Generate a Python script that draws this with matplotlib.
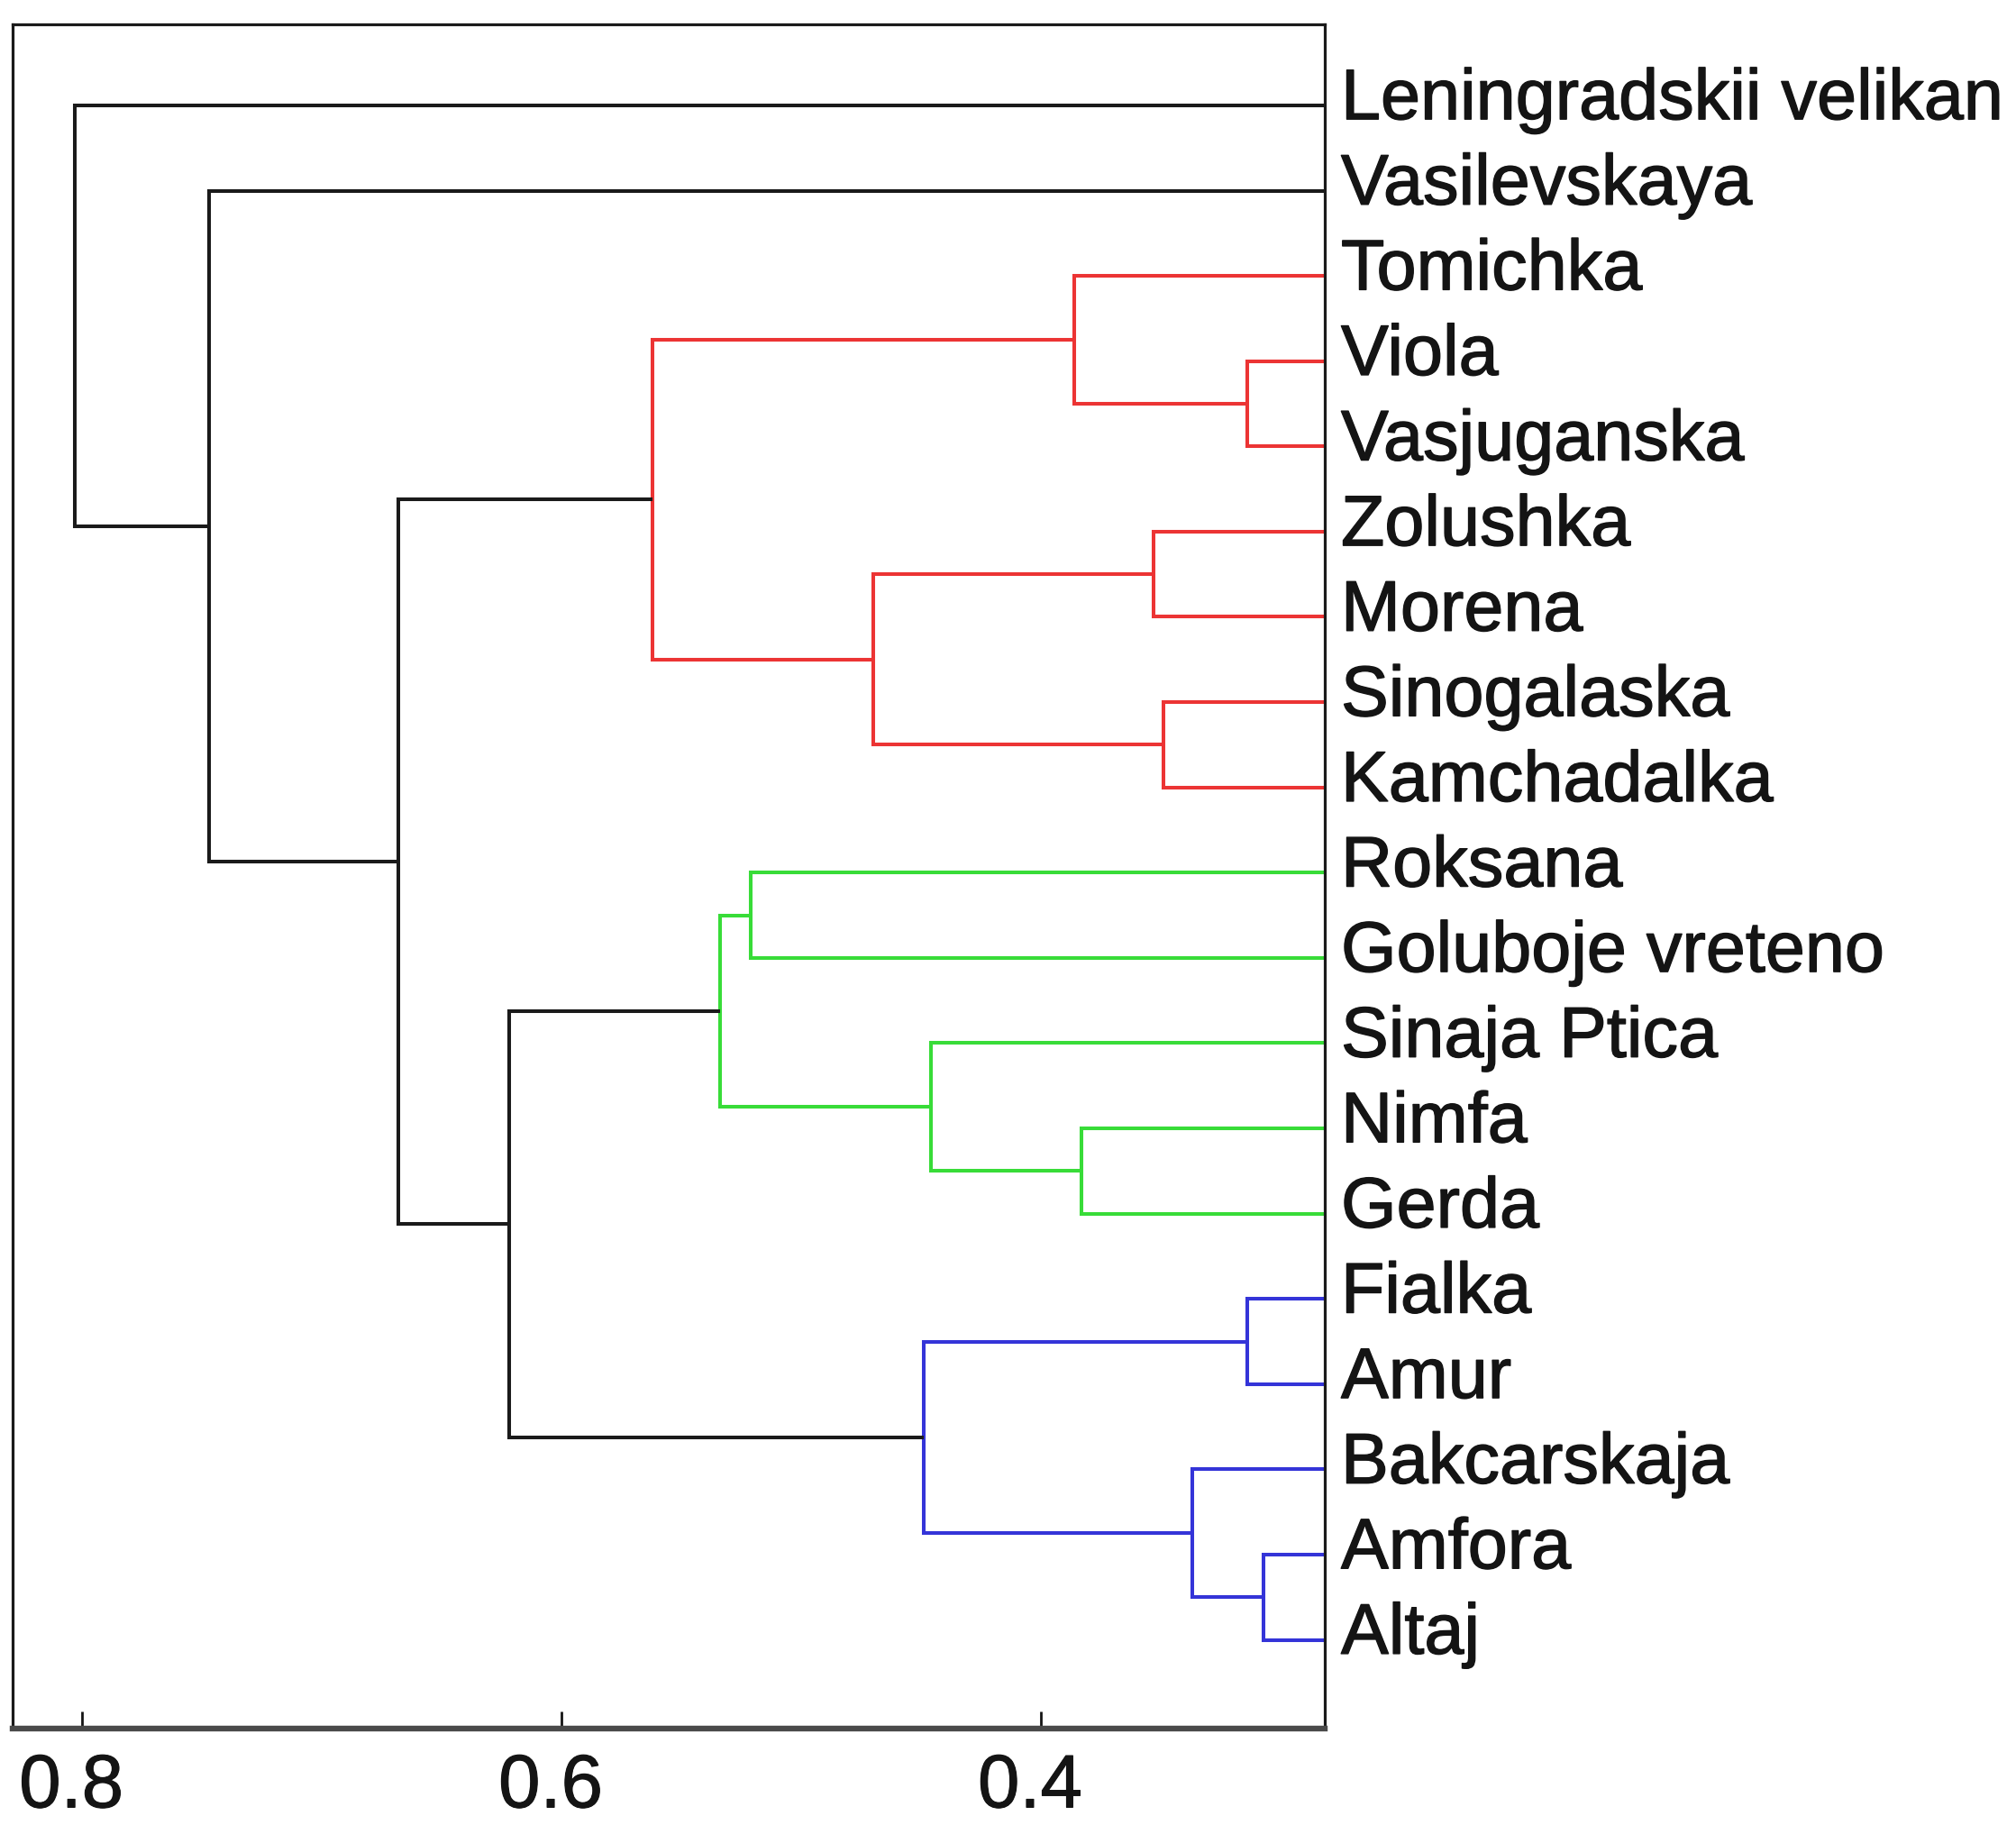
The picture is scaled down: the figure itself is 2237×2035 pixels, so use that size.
import matplotlib
matplotlib.use("Agg")
import matplotlib.pyplot as plt
import matplotlib.patheffects as pe
from matplotlib.transforms import ScaledTranslation

# =========================
# DATA
# =========================

labels = [
    "Leningradskii velikan", "Vasilevskaya", "Tomichka", "Viola",
    "Vasjuganska", "Zolushka", "Morena", "Sinogalaska", "Kamchadalka",
    "Roksana", "Goluboje vreteno", "Sinaja Ptica", "Nimfa", "Gerda",
    "Fialka", "Amur", "Bakcarskaja", "Amfora", "Altaj",
]

# merge k gets id len(labels) + k, like scipy linkage
merge_pairs = [
    (3, 4), (2, 19), (5, 6), (7, 8), (21, 22), (20, 23),
    (9, 10), (12, 13), (11, 26), (25, 27),
    (14, 15), (17, 18), (16, 30), (29, 31),
    (28, 32), (24, 33), (1, 34), (0, 35),
]
merge_heights = [
    0.314, 0.386, 0.353, 0.349, 0.470, 0.562,
    0.521, 0.383, 0.446, 0.534,
    0.314, 0.307, 0.337, 0.449,
    0.622, 0.668, 0.747, 0.803,
]
merge_groups = [
    "red", "red", "red", "red", "red", "red",
    "green", "green", "green", "green",
    "blue", "blue", "blue", "blue",
    "none", "none", "none", "none",
]
leaf_level = 0.2816

xticks = [0.8, 0.6, 0.4]

group_colors = {"red": "#ec3434", "green": "#38dc38", "blue": "#3434d8", "none": "#1a1a1a"}

# =========================
# FIGURE
# =========================

plt.rcParams["font.family"] = ["Liberation Sans", "DejaVu Sans"]

fig = plt.figure(figsize=(22.37, 20.35), dpi=100)
ax = fig.add_axes([0.0063, 0.0575, 0.6508, 0.9292])

n = len(labels)
pos = {i: float(i) for i in range(n)}
height = {i: leaf_level for i in range(n)}

for k, (a, b) in enumerate(merge_pairs):
    h = merge_heights[k]
    c = group_colors[merge_groups[k]]
    ya, yb = pos[a], pos[b]
    ax.plot([height[a], h, h, height[b]], [ya, ya, yb, yb],
            color=c, lw=2.9, solid_joinstyle="miter", solid_capstyle="butt")
    pos[n + k] = (ya + yb) / 2
    height[n + k] = h

bold = [pe.withStroke(linewidth=1.0, foreground="#141414")]
for i, name in enumerate(labels):
    ax.annotate(name, xy=(leaf_level, i), xytext=(13, -11),
                textcoords="offset points", ha="left", va="baseline",
                fontsize=57, color="#141414", annotation_clip=False,
                path_effects=bold)

ax.set_xlim(0.829, leaf_level)
ax.set_ylim(n - 1 + 1.04, -0.95)

ax.set_yticks([])
ax.set_xticks(xticks)
ax.set_xticklabels([f"{t:.1f}" for t in xticks])
ax.tick_params(axis="x", direction="in", length=14, width=2.0,
               labelsize=60, pad=19, colors="#141414")
shift = ScaledTranslation(-12 / 100, 0, fig.dpi_scale_trans)
for lab in ax.get_xticklabels():
    lab.set_transform(lab.get_transform() + shift)
    lab.set_path_effects([pe.withStroke(linewidth=0.8, foreground="#141414")])

for side in ["left", "right", "top"]:
    ax.spines[side].set_linewidth(2.3)
    ax.spines[side].set_color("#1a1a1a")
ax.spines["bottom"].set_linewidth(4.6)
ax.spines["bottom"].set_color("#4a4a4a")

plt.savefig("out.png", dpi=100)
plt.close()
